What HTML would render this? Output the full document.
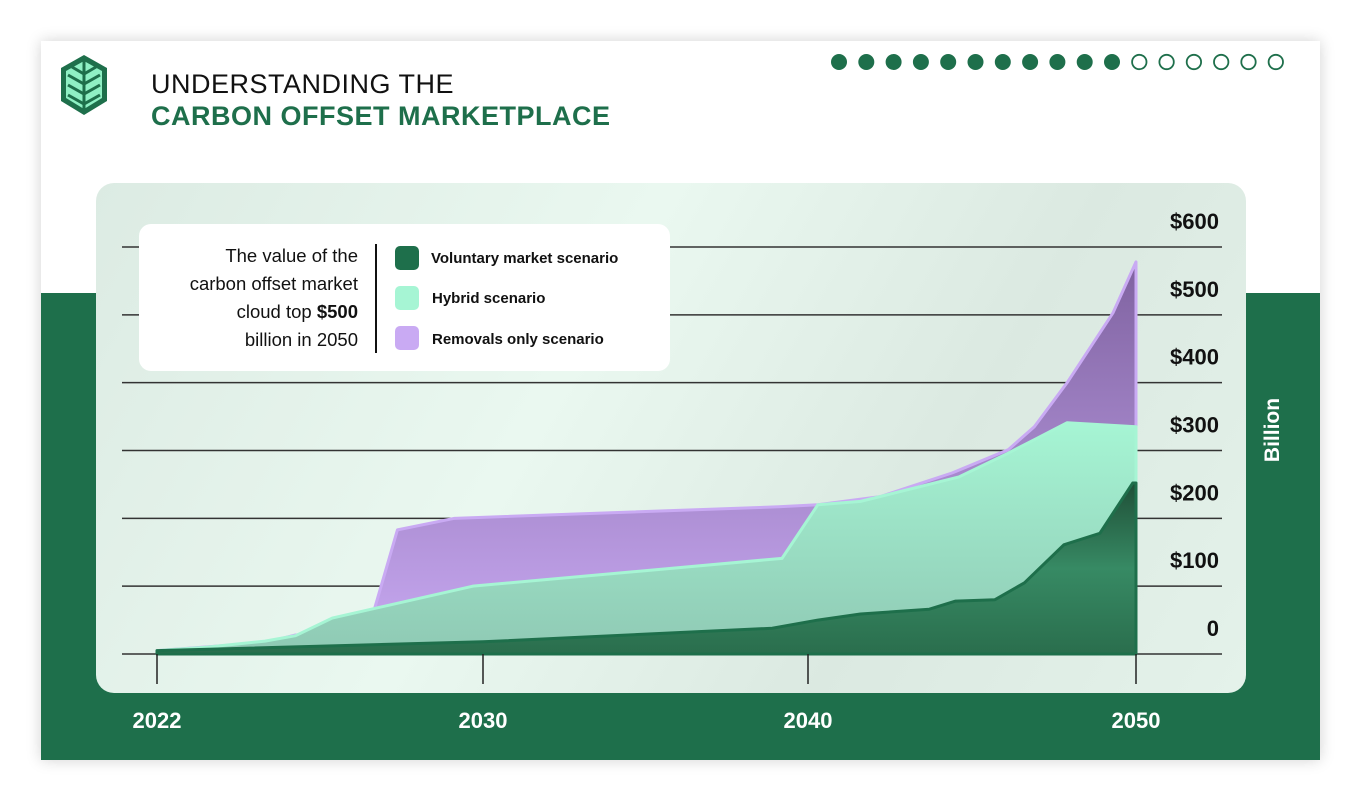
<!DOCTYPE html>
<html><head><meta charset="utf-8"><style>
body{margin:0;width:1362px;height:803px;background:#fff;font-family:"Liberation Sans",sans-serif;overflow:hidden;position:relative}
.abs{position:absolute}
</style></head><body>
<div class="abs" style="left:41px;top:41px;width:1279px;height:719px;background:#fff;box-shadow:0 0 14px rgba(0,0,0,.18)"></div>
<div class="abs" style="left:41px;top:293px;width:1279px;height:467px;background:#1e6f4b"></div>
<svg class="abs" style="left:58px;top:53px" width="52" height="64" viewBox="0 0 52 64">
<polygon points="26,2 49,15 49,48 26,62 3,48 3,15" fill="#1e6f4b"/>
<polygon points="26,8 44,18 44,45 26,56 8,45 8,18" fill="#8ff0c4"/>
<g stroke="#1e6f4b" stroke-width="3" fill="none"><line x1="26" y1="8" x2="26" y2="56"/><polyline points="10,22 26,31 42,22"/><polyline points="10,32 26,41 42,32"/><polyline points="10,42 26,51 42,42"/><polyline points="14,14 26,21 38,14"/></g>
</svg>
<div class="abs" style="left:151px;top:69px;font-size:27px;color:#111;letter-spacing:0.5px">UNDERSTANDING THE</div>
<div class="abs" style="left:151px;top:101px;font-size:27px;font-weight:bold;color:#1e6f4b;letter-spacing:0.5px">CARBON OFFSET MARKETPLACE</div>
<svg class="abs" style="left:820px;top:50px" width="500" height="26" id="dots"></svg>
<div class="abs" style="left:96px;top:183px;width:1150px;height:510px;border-radius:18px;background:linear-gradient(120deg,#dcebe3 0%,#eaf8f0 40%,#dbe9e1 70%,#e4f2ea 100%)"></div>
<svg class="abs" id="chart" style="left:0;top:0" width="1362" height="803"></svg>
<div class="abs" style="left:139px;top:224px;width:531px;height:147px;background:#fff;border-radius:12px"></div>
<div class="abs" style="left:140px;top:242px;width:218px;text-align:right;font-size:18.5px;line-height:28px;color:#111;white-space:nowrap">The value of the<br>carbon offset market<br>cloud top <b>$500</b><br>billion in 2050</div>
<div class="abs" style="left:375px;top:244px;width:1.5px;height:109px;background:#111"></div>
<div class="abs" style="left:395px;top:246px;width:24px;height:24px;border-radius:5px;background:#1e6f4b"></div>
<div class="abs" style="left:395px;top:286px;width:24px;height:24px;border-radius:5px;background:#a6f5d4"></div>
<div class="abs" style="left:395px;top:326px;width:24px;height:24px;border-radius:5px;background:#c9aaf3"></div>
<div class="abs" style="left:431px;top:250px;font-size:15px;font-weight:bold;color:#111">Voluntary market scenario</div>
<div class="abs" style="left:432px;top:290px;font-size:15px;font-weight:bold;color:#111">Hybrid scenario</div>
<div class="abs" style="left:432px;top:331px;font-size:15px;font-weight:bold;color:#111">Removals only scenario</div>
<div class="abs" style="left:1273px;top:430px;transform:translate(-50%,-50%) rotate(-90deg);font-size:21px;font-weight:bold;color:#fff">Billion</div>
<script>
const years=[2022,2030,2040,2050];
const yTicks=[0,100,200,300,400,500,600];
const yTickLabels=["0","$100","$200","$300","$400","$500","$600"];
const removalsX=[2022,2024.65,2025.4,2027.1,2027.2,2027.9,2029.3,2039.1,2040.3,2042.2,2044.4,2046.1,2046.9,2047.9,2049.3,2050];
const removalsY=[5,17,28,32,38,183,200,217,220,232,267,301,335,400,503,578];
const hybridX=[2022,2023.2,2024.65,2025.4,2026.3,2029.75,2039.2,2040.3,2041.6,2044.6,2046.1,2046.9,2047.9,2050];
const hybridY=[5,10,19,27,53,100,141,220,225,261,296,316,341,335];
const voluntaryX=[2022,2030,2038.9,2040.3,2041.6,2043.7,2044.5,2045.7,2046.6,2047.8,2048.9,2049.9,2050];
const voluntaryY=[5,18,38,50,59,66,78,80,105,161,178,252,252];
const NS="http://www.w3.org/2000/svg";
const xTickPx=[157,483,808,1136];
function X(v){
 for(let i=0;i<years.length-1;i++){
  if(v<=years[i+1]||i===years.length-2){
   return xTickPx[i]+(v-years[i])*(xTickPx[i+1]-xTickPx[i])/(years[i+1]-years[i]);
  }
 }
}
const Y=v=>654-v*(654-247)/600;
const svg=document.getElementById('chart');
function mk(t,a){const e=document.createElementNS(NS,t);for(const k in a)e.setAttribute(k,a[k]);svg.appendChild(e);return e;}
const defs=document.createElementNS(NS,'defs');
defs.innerHTML='<linearGradient id="gr" x1="0" y1="0" x2="0" y2="1"><stop offset="0" stop-color="#7f62a0"/><stop offset="1" stop-color="#c9aaf3"/></linearGradient><linearGradient id="gh" x1="0" y1="0" x2="0" y2="1"><stop offset="0" stop-color="#a6f5d4"/><stop offset="1" stop-color="#8fc9b4"/></linearGradient><linearGradient id="gv" x1="0" y1="0" x2="0" y2="1"><stop offset="0" stop-color="#1f4f37"/><stop offset="0.5" stop-color="#378a64"/><stop offset="1" stop-color="#2a6e4d"/></linearGradient>';
svg.appendChild(defs);
yTicks.forEach((t,i)=>{
 const g=mk('line',{x1:122,x2:1222,y1:Y(t),y2:Y(t),stroke:'#333','stroke-width':1.5});
 
 
 const tx=mk('text',{x:1219,y:Y(t)-18,'text-anchor':'end','font-size':22,'font-weight':'bold',fill:'#111','font-family':'Liberation Sans'});
 tx.textContent=yTickLabels[i];
 
 
});
function area(xs,ys,fill,stroke,name){
 let d='M'+X(xs[0])+','+Y(0);
 xs.forEach((x,i)=>d+=' L'+X(x)+','+Y(ys[i]));
 d+=' L'+X(xs[xs.length-1])+','+Y(0)+'Z';
 const p=mk('path',{d:d,fill:fill,stroke:stroke,'stroke-width':3,'stroke-linejoin':'round'});
 
 
}
area(removalsX,removalsY,'url(#gr)','#c9aaf3','area-removals');
area(hybridX,hybridY,'url(#gh)','#a6f5d4','area-hybrid');
area(voluntaryX,voluntaryY,'url(#gv)','#1e6f4b','area-voluntary');
years.forEach(y=>{
 const l=mk('line',{x1:X(y),x2:X(y),y1:654,y2:684,stroke:'#222','stroke-width':1.5});
 
 
 const t=mk('text',{x:X(y),y:728,'text-anchor':'middle','font-size':22,'font-weight':'bold',fill:'#fff','font-family':'Liberation Sans'});
 t.textContent=y;
 
 
});
const dots=document.getElementById('dots');
for(let i=0;i<17;i++){
 const c=document.createElementNS(NS,'circle');
 c.setAttribute('cx',19+i*27.3);c.setAttribute('cy',12);
 c.setAttribute('r',i<11?8:7.2);
 c.setAttribute('fill',i<11?'#1e6f4b':'none');
 c.setAttribute('stroke','#1e6f4b');c.setAttribute('stroke-width',i<11?0:1.8);
 
 
 dots.appendChild(c);
}
</script>
</body></html>
